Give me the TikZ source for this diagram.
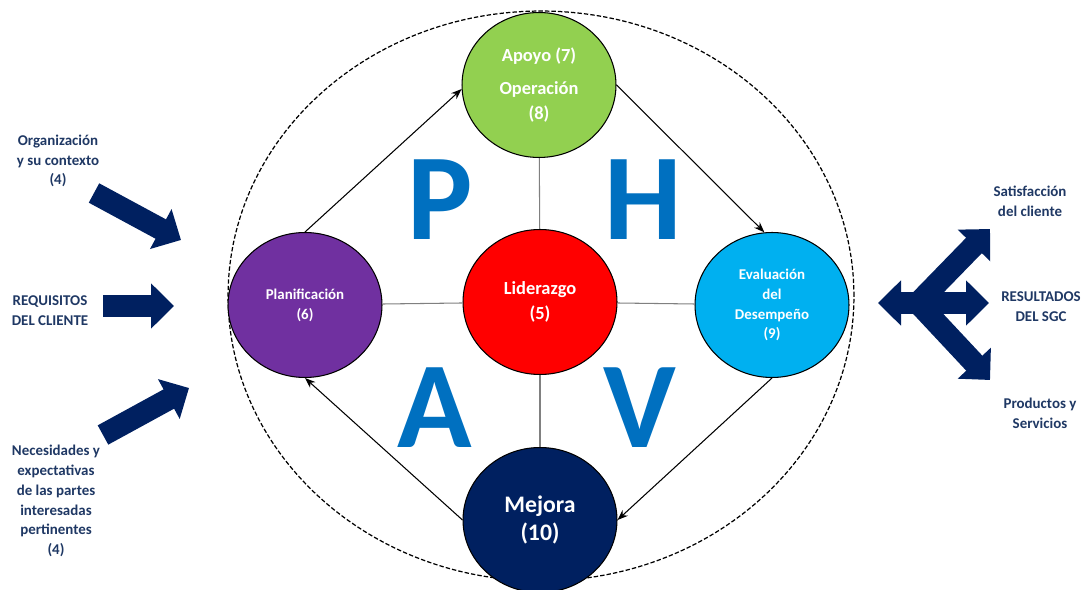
\documentclass[tikz,border=0pt]{standalone}
\usepackage{fontspec}
\setmainfont{Carlito}
\usetikzlibrary{shapes.geometric, arrows.meta}
\definecolor{navy}{HTML}{002060}
\definecolor{textnavy}{HTML}{1F3864}
\definecolor{phgreen}{HTML}{92D050}
\definecolor{phpurple}{HTML}{7030A0}
\definecolor{phred}{HTML}{FF0000}
\definecolor{phblue}{HTML}{00B0F0}
\definecolor{letterblue}{HTML}{0070C0}
\tikzstyle{ring} = [ellipse, draw=black, dash pattern=on 2.5pt off 1.2pt, line width=0.7pt, minimum width=12.52cm, minimum height=11.4cm]
\tikzstyle{phase} = [ellipse, draw=black, line width=0.6pt, minimum width=3.08cm, minimum height=2.9cm, inner sep=0pt, align=center, text=white, font=\bfseries\fontsize{8.5}{11.3}\selectfont]
\tikzstyle{sidetext} = [align=center, text=textnavy, inner sep=0pt, font=\bfseries\fontsize{8.5}{11.3}\selectfont]
\tikzstyle{letter} = [text=letterblue, inner sep=0pt, font=\bfseries\fontsize{70}{70}\selectfont]
\tikzstyle{arrow} = [line width=0.6pt, -{Stealth[length=6pt, width=4.5pt]}]
\tikzstyle{spoke} = [gray, line width=0.6pt]
\tikzstyle{bigarrow} = [navy, line width=0.44cm, -{Triangle[width=0.88cm, length=0.46cm]}]

\begin{document}
\begin{tikzpicture}[x=0.02cm, y=-0.02cm]
	\useasboundingbox (0,0) rectangle (1088,590);

	\node (ring) [ring] at (541,296) {};

	\node (plan) [phase, fill=phpurple] at (305,305) {Planificación\\(6)};
	\node (oper) [phase, fill=phgreen, font=\bfseries\fontsize{10.5}{14}\selectfont] at (539,85) {Apoyo (7)\\[5pt]Operación\\(8)};
	\node (lider) [phase, fill=phred, font=\bfseries\fontsize{10.5}{14}\selectfont] at (540,302) {Liderazgo\\(5)};
	\node (eval) [phase, fill=phblue] at (772,305) {Evaluación\\del\\Desempeño\\(9)};
	\node (mejora) [phase, fill=navy, font=\bfseries\fontsize{13.5}{16}\selectfont] at (540,520) {Mejora\\(10)};

	\draw [spoke] (oper) -- (lider);
	\draw [spoke] (lider) -- (mejora);
	\draw [spoke] (plan) -- (lider);
	\draw [spoke] (lider) -- (eval);

	\draw [arrow] (plan.north) -- (oper.183);
	\draw [arrow] (oper.east) -- (eval.96);
	\draw [arrow] (eval.south) -- (mejora.east);
	\draw [arrow] (mejora.west) -- (plan.south);

	\node (letp) [letter] at (440,200) {P};
	\node (leth) [letter] at (643,200) {H};
	\node (leta) [letter] at (435,408) {A};
	\node (letv) [letter] at (640,408) {V};

	\node (orgctx) [sidetext] at (58,161) {Organización\\y su contexto\\(4)};
	\node (reqcli) [sidetext] at (50,311) {REQUISITOS\\DEL CLIENTE};
	\node (needs) [sidetext] at (56,501) {Necesidades y\\expectativas\\de las partes\\interesadas\\pertinentes\\(4)};

	\coordinate (orgtail) at (94,193);
	\coordinate (orgtip) at (181,240);
	\coordinate (reqtail) at (103,306);
	\coordinate (reqtip) at (174,306);
	\coordinate (needtail) at (103,435);
	\coordinate (needtip) at (189,388);
	\draw [bigarrow] (orgtail) -- (orgtip);
	\draw [bigarrow] (reqtail) -- (reqtip);
	\draw [bigarrow] (needtail) -- (needtip);

	\node (satcli) [sidetext] at (1030,201) {Satisfacción\\del cliente};
	\node (resgc) [sidetext] at (1041,307) {RESULTADOS\\DEL SGC};
	\node (prodserv) [sidetext] at (1040,413) {Productos y\\Servicios};

	\coordinate (outleft) at (878,303);
	\coordinate (outright) at (989,303);
	\coordinate (hub) at (918,303);
	\coordinate (outup) at (990,229);
	\coordinate (outdown) at (990,380);
	\draw [bigarrow, {Triangle[width=0.88cm, length=0.46cm]}-{Triangle[width=0.88cm, length=0.46cm]}] (outleft) -- (outright);
	\draw [bigarrow] (hub) -- (outup);
	\draw [bigarrow] (hub) -- (outdown);
\end{tikzpicture}
\end{document}
